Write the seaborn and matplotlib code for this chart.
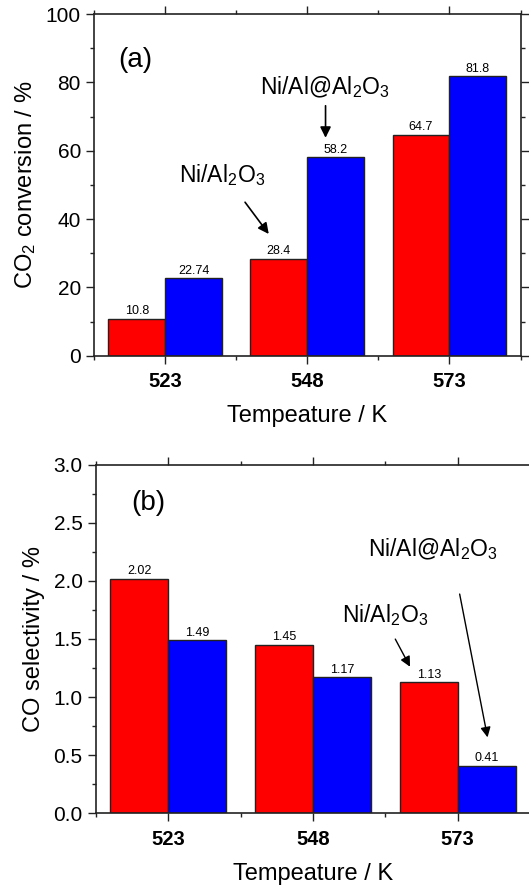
import numpy as np
import pandas as pd
import matplotlib
matplotlib.use("Agg")
import matplotlib.pyplot as plt
from matplotlib.ticker import MultipleLocator
import seaborn as sns

# data
temps = ["523", "548", "573"]
catalysts = ["Ni/Al2O3", "Ni/Al@Al2O3"]
conv_nial2o3 = [10.8, 28.4, 64.7]
conv_nial_at = [22.74, 58.2, 81.8]
sel_nial2o3 = [2.02, 1.45, 1.13]
sel_nial_at = [1.49, 1.17, 0.41]

colors = ["#FF0000", "#0000FF"]

sns.set_style("ticks")
plt.rcParams['font.family'] = ['Liberation Sans', 'DejaVu Sans']
plt.rcParams['mathtext.fontset'] = 'custom'
plt.rcParams['mathtext.rm'] = 'Liberation Sans'
plt.rcParams['mathtext.it'] = 'Liberation Sans:italic'
for k in ['text.color', 'axes.labelcolor', 'xtick.color', 'ytick.color']:
    plt.rcParams[k] = 'black'

def make_df(a, b):
    return pd.DataFrame({
        "temp": temps * 2,
        "cat": [catalysts[0]] * 3 + [catalysts[1]] * 3,
        "val": a + b,
    })

fig = plt.figure(figsize=(5.29, 8.85), dpi=100)
ax1 = fig.add_axes([0.178, 0.598, 0.806, 0.386])
ax2 = fig.add_axes([0.181, 0.081, 0.821, 0.394])

def draw(ax, a, b):
    df = make_df(a, b)
    sns.barplot(data=df, x="temp", y="val", hue="cat", palette=colors,
                saturation=1, edgecolor="#222222", linewidth=1.0,
                width=0.8, legend=False, ax=ax)
    for cont, vals in zip(ax.containers, [a, b]):
        ax.bar_label(cont, labels=[str(v) for v in vals], padding=1,
                     fontsize=9)
    ax.set_xlim(-0.5, 2.5)
    ax.xaxis.set_minor_locator(MultipleLocator(0.5))
    for sp in ax.spines.values():
        sp.set_visible(True)
        sp.set_linewidth(1.2)
        sp.set_color("#222222")
    ax.tick_params(which="both", direction="out", top=True, right=True,
                   width=1.0, color="#222222")
    ax.tick_params(which="major", length=6)
    ax.tick_params(which="minor", length=3)
    ax.tick_params(axis="y", labelsize=15)
    ax.tick_params(axis="x", labelsize=14.5, pad=6)
    for t in ax.get_xticklabels():
        t.set_fontweight("bold")
    ax.set_xlabel("Tempeature / K", fontsize=17, labelpad=10)

# (a) CO2 conversion
draw(ax1, conv_nial2o3, conv_nial_at)
ax1.set_ylim(0, 100)
ax1.yaxis.set_major_locator(MultipleLocator(20))
ax1.yaxis.set_minor_locator(MultipleLocator(10))
ax1.set_ylabel("CO$_2$ conversion / %", fontsize=17, labelpad=6)
ax1.text(-0.21, 86.5, "(a)", fontsize=20, ha="center", va="center")
ax1.text(1.12, 78.7, "Ni/Al@Al$_2$O$_3$", fontsize=16.5, ha="center", va="center")
ax1.annotate("", xy=(1.128, 63), xytext=(1.128, 74),
             arrowprops=dict(arrowstyle="-|>", color="black", lw=1.2, mutation_scale=16))
ax1.text(0.40, 52.9, "Ni/Al$_2$O$_3$", fontsize=16.5, ha="center", va="center")
ax1.annotate("", xy=(0.74, 35), xytext=(0.55, 45.6),
             arrowprops=dict(arrowstyle="-|>", color="black", lw=1.2, mutation_scale=16))

# (b) CO selectivity
draw(ax2, sel_nial2o3, sel_nial_at)
ax2.set_ylim(0, 3.0)
ax2.yaxis.set_major_locator(MultipleLocator(0.5))
ax2.yaxis.set_minor_locator(MultipleLocator(0.25))
ax2.yaxis.set_major_formatter(matplotlib.ticker.FormatStrFormatter("%.1f"))
ax2.set_ylabel("CO selectivity / %", fontsize=17, labelpad=6)
ax2.text(-0.14, 2.67, "(b)", fontsize=20, ha="center", va="center")
ax2.text(1.83, 2.27, "Ni/Al@Al$_2$O$_3$", fontsize=16.5, ha="center", va="center")
ax2.annotate("", xy=(2.21, 0.63), xytext=(2.01, 1.91),
             arrowprops=dict(arrowstyle="-|>", color="black", lw=1.0, mutation_scale=15))
ax2.text(1.50, 1.71, "Ni/Al$_2$O$_3$", fontsize=16.5, ha="center", va="center")
ax2.annotate("", xy=(1.68, 1.24), xytext=(1.56, 1.52),
             arrowprops=dict(arrowstyle="-|>", color="black", lw=1.0, mutation_scale=15))

fig.savefig("out.png", dpi=100)
